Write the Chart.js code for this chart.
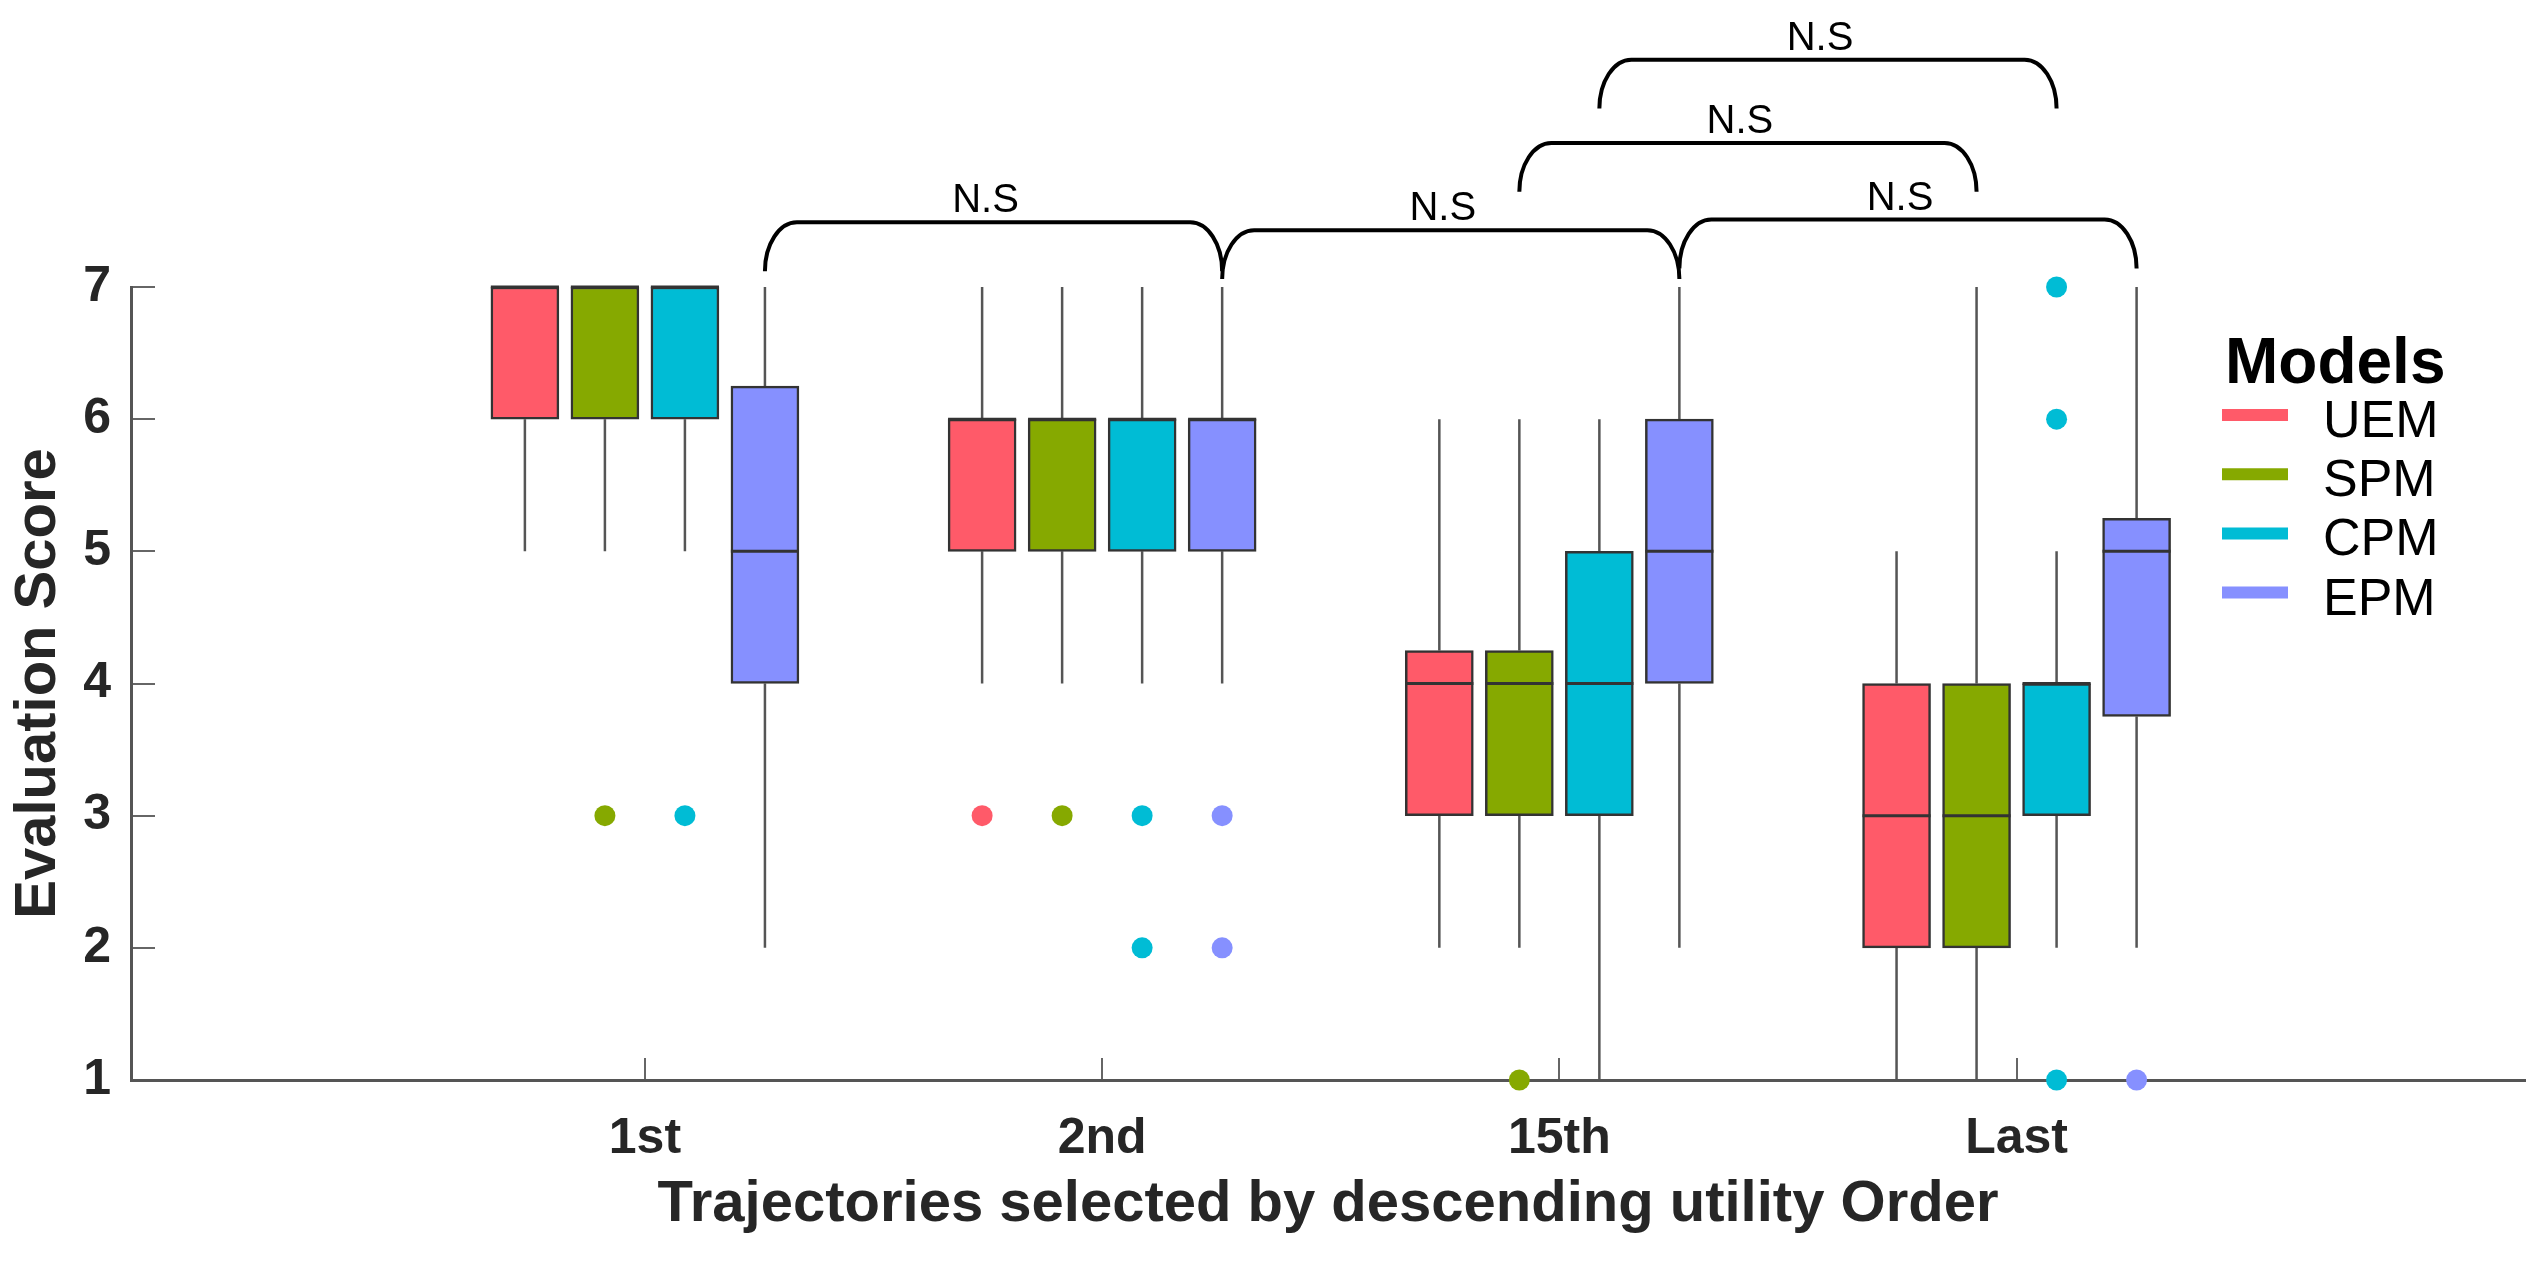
<!DOCTYPE html>
<html>
<head>
<meta charset="utf-8">
<title>Evaluation Score by trajectory order</title>
<script src="https://cdn.jsdelivr.net/npm/chart.js@4.4.1/dist/chart.umd.min.js"></script>
<style>
  html, body { margin: 0; padding: 0; background: #fff; }
  #wrap { width: 2546px; height: 1266px; }
</style>
</head>
<body>
<div id="wrap"><canvas id="scoreChart" width="2546" height="1266"></canvas></div>
<script>
// categories on the x axis and the four models
const groups = ['1st', '2nd', '15th', 'Last'];
const models = ['UEM', 'SPM', 'CPM', 'EPM'];
const yTicks = [1, 2, 3, 4, 5, 6, 7];

// box stats per group: [lower whisker, q1, median, q3, upper whisker]
const uemBoxes = [[5, 6, 7, 7, 7], [4, 5, 6, 6, 7], [2, 3, 4, 4.25, 6], [1, 2, 3, 4, 5]];
const spmBoxes = [[5, 6, 7, 7, 7], [4, 5, 6, 6, 7], [2, 3, 4, 4.25, 6], [1, 2, 3, 4, 7]];
const cpmBoxes = [[5, 6, 7, 7, 7], [4, 5, 6, 6, 7], [1, 3, 4, 5, 6], [2, 3, 4, 4, 5]];
const epmBoxes = [[2, 4, 5, 6.25, 7], [4, 5, 6, 6, 7], [2, 4, 5, 6, 7], [2, 3.75, 5, 5.25, 7]];

// outliers per group
const uemOutliers = [[], [3], [], []];
const spmOutliers = [[3], [3], [1], []];
const cpmOutliers = [[3], [3, 2], [], [7, 6, 1]];
const epmOutliers = [[], [3, 2], [], [1]];

// significance brackets, each end is [group, model]
const bracketFrom = [[0, 3], [1, 3], [2, 3], [2, 1], [2, 2]];
const bracketTo = [[1, 3], [2, 3], [3, 3], [3, 1], [3, 2]];
const bracketText = ['N.S', 'N.S', 'N.S', 'N.S', 'N.S'];

// look and layout
const colors = ['#ff5a69', '#86a900', '#00bcd5', '#8690ff'];
const FONT = '"Liberation Sans", Arial, sans-serif';
const slot = 0.175;        // distance between box centres (category units)
const boxHalf = 0.0745;    // half box width (category units)
const bracketTop = [7.49, 7.43, 7.51, 8.09, 8.72];
const bracketDrop = 0.37;

const allBoxes = [uemBoxes, spmBoxes, cpmBoxes, epmBoxes];
const allOutliers = [uemOutliers, spmOutliers, cpmOutliers, epmOutliers];

function xOf(g, m) { return g + (m - 1.5) * slot; }

const datasets = [];
models.forEach((name, m) => {
  const boxes = allBoxes[m];
  datasets.push({
    type: 'bar',
    label: name,
    data: boxes.map((b, g) => ({ x: xOf(g, m), y: [b[1], b[3]] })),
    backgroundColor: colors[m],
    borderColor: '#333',
    borderWidth: 2.5,
    borderSkipped: false,
    barThickness: 68,
    grouped: false,
    order: 2,
    clip: false
  });
  datasets.push({
    type: 'line',
    label: name + ' whiskers',
    data: boxes.flatMap((b, g) => {
      const x = xOf(g, m);
      return [{ x, y: b[0] }, { x, y: b[1] }, { x, y: null }, { x, y: b[3] }, { x, y: b[4] }, { x, y: null }];
    }),
    borderColor: '#555',
    borderWidth: 2.5,
    pointRadius: 0,
    spanGaps: false,
    fill: false,
    order: 3,
    clip: false
  });
  datasets.push({
    type: 'line',
    label: name + ' median',
    data: boxes.flatMap((b, g) => {
      const x = xOf(g, m);
      return [{ x: x - boxHalf, y: b[2] }, { x: x + boxHalf, y: b[2] }, { x, y: null }];
    }),
    borderColor: '#333',
    borderWidth: 3,
    pointRadius: 0,
    spanGaps: false,
    fill: false,
    order: 1,
    clip: false
  });
  datasets.push({
    type: 'scatter',
    label: name + ' outliers',
    data: allOutliers[m].flatMap((vals, g) => vals.map(v => ({ x: xOf(g, m), y: v }))),
    backgroundColor: colors[m],
    borderWidth: 0,
    pointRadius: 10.5,
    order: 0,
    clip: false
  });
});

// legend drawn inside the plot, upper right
const modelLegend = {
  id: 'modelLegend',
  afterDraw(chart) {
    const { ctx, chartArea } = chart;
    const left = chartArea.right - 303;
    ctx.save();
    ctx.fillStyle = '#000';
    ctx.textAlign = 'left';
    ctx.textBaseline = 'alphabetic';
    ctx.font = 'bold 64px ' + FONT;
    ctx.fillText('Models', left + 3, 383);
    models.forEach((name, m) => {
      const y = 415 + m * 59.2;
      ctx.strokeStyle = colors[m];
      ctx.lineWidth = 12;
      ctx.beginPath();
      ctx.moveTo(left, y);
      ctx.lineTo(left + 66, y);
      ctx.stroke();
      ctx.font = '52px ' + FONT;
      ctx.fillText(name, left + 101, y + 22);
    });
    ctx.restore();
  }
};

// N.S brackets above the boxes
const sigBrackets = {
  id: 'sigBrackets',
  afterDraw(chart) {
    const { ctx } = chart;
    const xs = chart.scales.x, ys = chart.scales.y;
    ctx.save();
    ctx.strokeStyle = '#000';
    ctx.lineWidth = 4;
    ctx.fillStyle = '#000';
    ctx.font = '40px ' + FONT;
    ctx.textAlign = 'center';
    ctx.textBaseline = 'alphabetic';
    bracketFrom.forEach((from, i) => {
      const to = bracketTo[i];
      const x0 = xs.getPixelForValue(xOf(from[0], from[1]));
      const x1 = xs.getPixelForValue(xOf(to[0], to[1]));
      const top = ys.getPixelForValue(bracketTop[i]);
      const bottom = ys.getPixelForValue(bracketTop[i] - bracketDrop);
      const r = 32, h = bottom - top, k = 0.552;
      ctx.beginPath();
      ctx.moveTo(x0, bottom);
      ctx.bezierCurveTo(x0, bottom - k * h, x0 + r - k * r, top, x0 + r, top);
      ctx.lineTo(x1 - r, top);
      ctx.bezierCurveTo(x1 - r + k * r, top, x1, bottom - k * h, x1, bottom);
      ctx.stroke();
      ctx.fillText(bracketText[i], (x0 + x1) / 2 - 8, top - 10);
    });
    ctx.restore();
  }
};

Chart.defaults.font.family = FONT;

new Chart(document.getElementById('scoreChart'), {
  type: 'bar',
  data: { datasets },
  options: {
    responsive: false,
    animation: false,
    devicePixelRatio: 1,
    layout: { padding: { top: 287, right: 21, left: 0, bottom: 0 } },
    plugins: {
      legend: { display: false },
      tooltip: { enabled: false },
      title: { display: false }
    },
    scales: {
      x: {
        type: 'linear',
        min: -1.124,
        max: 4.112,
        offset: false,
        afterBuildTicks: s => { s.ticks = groups.map((_, i) => ({ value: i })); },
        afterFit: s => { s.height = 186; },
        grid: { offset: false, drawOnChartArea: false, tickLength: -22, color: '#666', lineWidth: 2 },
        border: { color: '#555', width: 3 },
        ticks: {
          autoSkip: false,
          maxRotation: 0,
          padding: 51,
          color: '#262626',
          font: { size: 50, weight: 'bold' },
          callback: v => groups[v]
        },
        title: {
          display: true,
          text: 'Trajectories selected by descending utility Order',
          color: '#262626',
          font: { size: 58, weight: 'bold' },
          padding: { top: 0, bottom: 26 }
        }
      },
      y: {
        type: 'linear',
        min: 1,
        max: 7,
        afterBuildTicks: s => { s.ticks = yTicks.map(v => ({ value: v })); },
        afterFit: s => { s.width = 131; },
        grid: { drawOnChartArea: false, tickLength: -24, color: '#666', lineWidth: 2 },
        border: { color: '#555', width: 3 },
        ticks: {
          padding: 44,
          color: '#262626',
          font: { size: 50, weight: 'bold' }
        },
        title: {
          display: true,
          text: 'Evaluation Score',
          color: '#262626',
          font: { size: 58, weight: 'bold' },
          padding: { top: 4, bottom: 0 }
        }
      }
    }
  },
  plugins: [sigBrackets, modelLegend]
});
</script>
</body>
</html>
